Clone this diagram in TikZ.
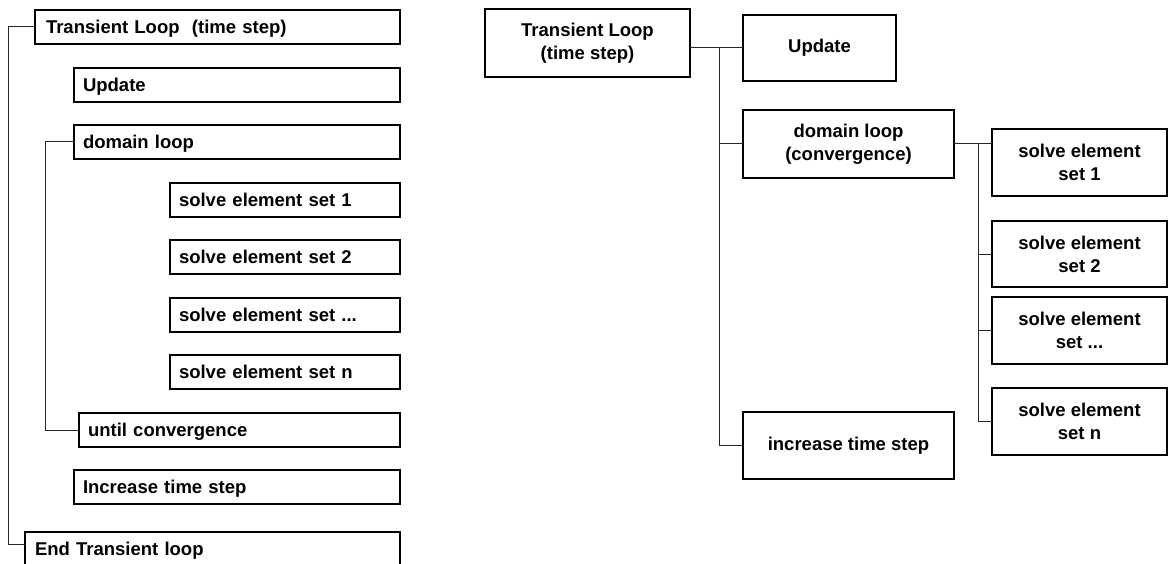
\documentclass[tikz,border=0pt]{standalone}
\usepackage{fontspec}
\setmainfont{Liberation Sans}
\usetikzlibrary{calc}
\begin{document}
\begin{tikzpicture}[x=1pt,y=-1pt,
  box/.style={draw=black, line width=1.2pt, anchor=north west, outer sep=0pt,
    inner ysep=0pt, font=\bfseries\fontsize{18.5}{23}\selectfont},
  lbox/.style={box, minimum height=34pt, align=left, inner xsep=9pt,
    text height=15.5pt, text depth=2.5pt},
  rbox/.style={box, align=center},
  link/.style={draw=black!85, line width=1pt}]
\useasboundingbox (0,0) rectangle (1169,564);

% ---- sequential listing (left) ----
\node[lbox, inner xsep=11pt, text width=343pt] (LTL) at (35,10) {Transient Loop\ \ (time step)};
\node[lbox, text width=308pt] (LUpd) at (74,68) {Update};
\node[lbox, text width=308pt] (LDom) at (74,125) {domain loop};
\node[lbox, text width=212pt] (LS1) at (170,183) {solve element set 1};
\node[lbox, text width=212pt] (LS2) at (170,240) {solve element set 2};
\node[lbox, text width=212pt] (LS3) at (170,298) {solve element set ...};
\node[lbox, text width=212pt] (LS4) at (170,355) {solve element set n};
\node[lbox, text width=303pt] (LUntil) at (79,413) {until convergence};
\node[lbox, text width=308pt] (LInc) at (74,470) {Increase time step};
\node[lbox, inner xsep=10pt, text width=355pt] (LEnd) at (25,532) {End Transient loop};

\coordinate (oB) at ($(LEnd.north west)+(0,12)$);
\draw[link] (LTL.west) -- ++(-27,0) |- (oB);
\draw[link] (LDom.west) -- ++(-29,0) |- (LUntil.west);

% ---- tree view (right) ----
\node[rbox, minimum width=205pt, minimum height=68pt] (RTL) at (485,9) {Transient Loop\\(time step)};
\node[rbox, minimum width=153pt, minimum height=66pt] (RUpd) at (743,15) {Update};
\node[rbox, minimum width=211pt, minimum height=68pt] (RDom) at (743,110) {domain loop\\(convergence)};
\node[rbox, minimum width=211pt, minimum height=67pt] (RInc) at (743,412) {increase time step};
\node[rbox, minimum width=175pt, minimum height=67pt] (S1) at (992,129) {solve element\\set 1};
\node[rbox, minimum width=175pt, minimum height=66pt] (S2) at (992,221) {solve element\\set 2};
\node[rbox, minimum width=175pt, minimum height=67pt] (S3) at (992,297) {solve element\\set ...};
\node[rbox, minimum width=175pt, minimum height=67pt] (S4) at (992,388) {solve element\\set n};

\coordinate (t1) at ($(RUpd.west)+(-24,0)$);
\draw[link] (RTL.east |- RUpd.west) -- (RUpd.west);
\draw[link] (t1) |- (RInc.west);
\draw[link] (t1 |- RDom.west) -- (RDom.west);

\coordinate (t2) at ($(RDom.east)+(24,0)$);
\draw[link] (RDom.east) -- (RDom.east -| S1.west);
\draw[link] (t2) |- (S4.west);
\draw[link] (t2 |- S2.west) -- (S2.west);
\draw[link] (t2 |- S3.west) -- (S3.west);
\end{tikzpicture}
\end{document}
